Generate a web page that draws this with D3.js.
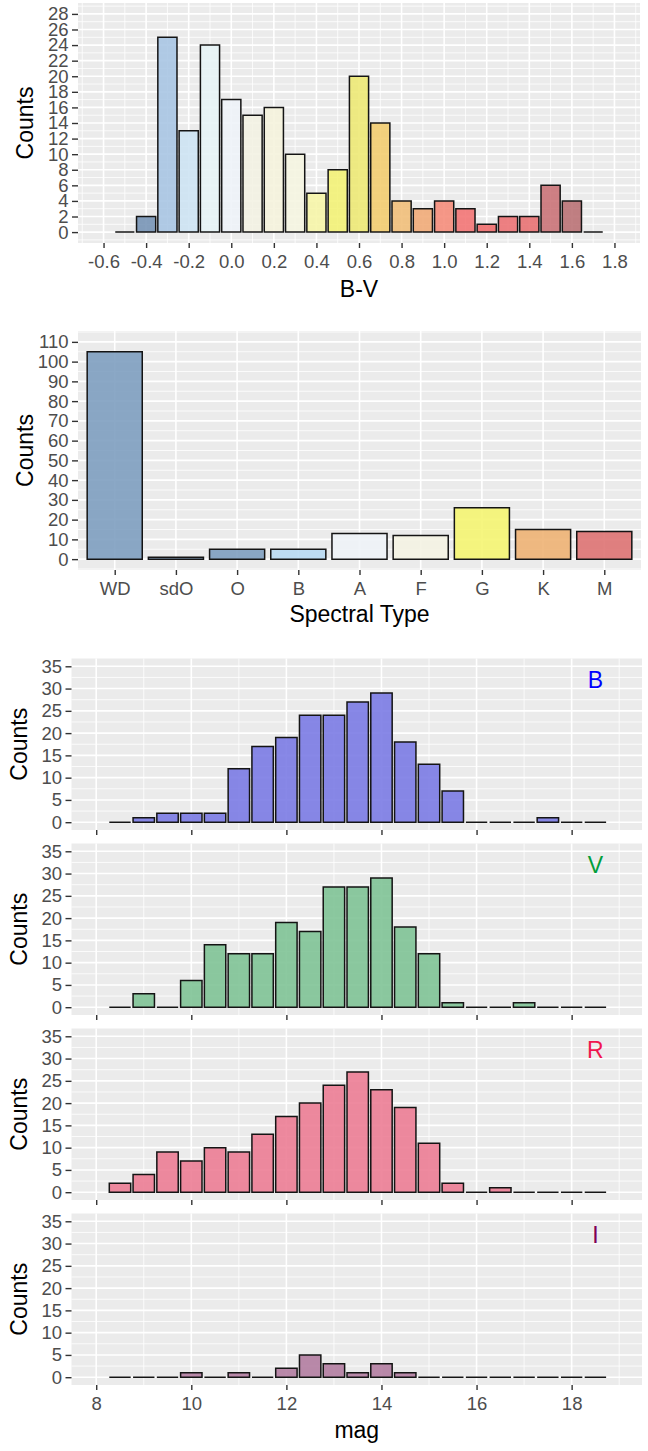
<!DOCTYPE html>
<html>
<head>
<meta charset="utf-8">
<script src="https://cdn.jsdelivr.net/npm/d3@7"></script>
<style>
  body { margin: 0; background: #fff; }
  text { font-family: "Liberation Sans", Arial, sans-serif; }
</style>
</head>
<body>
<div id="chart"></div>
<script>
/* * * * * * * * * * * * * *
 *   data  *
 * * * * * * * * * * * * * */

// B-V histogram (bin centres, counts, fill)
const bvCentres = [-0.5, -0.4, -0.3, -0.2, -0.1, 0.0, 0.1, 0.2, 0.3, 0.4, 0.5, 0.6,
  0.7, 0.8, 0.9, 1.0, 1.1, 1.2, 1.3, 1.4, 1.5, 1.6, 1.7];
const bvCounts = [0, 2, 25, 13, 24, 17, 15, 16, 10, 5, 8, 20,
  14, 4, 3, 4, 3, 1, 2, 2, 6, 4, 0];
const bvColors = ["#7492b4", "#7492b4", "#a6c4e2", "#cce3f3", "#e6f4f6", "#eef3f8", "#f2f1e2",
  "#f5f2dc", "#f5f5e0", "#f6f5a6", "#f3f173", "#ede872", "#f3cc6c", "#f0bd76", "#f0a874",
  "#f58a78", "#f27272", "#ef6a6a", "#ec6f72", "#e86e70", "#c87074", "#b86e72", "#b86e72"];
const bvTicks = [-0.6, -0.4, -0.2, 0.0, 0.2, 0.4, 0.6, 0.8, 1.0, 1.2, 1.4, 1.6, 1.8];
const bvYTicks = [0, 2, 4, 6, 8, 10, 12, 14, 16, 18, 20, 22, 24, 26, 28];

// spectral types
const specTypes = ["WD", "sdO", "O", "B", "A", "F", "G", "K", "M"];
const specCounts = [105, 1, 5, 5, 13, 12, 26, 15, 14];
const specColors = ["#7b9cbe", "#7b9cbe", "#7b9cbe", "#b7daf2", "#eef2f7", "#f4f3e2",
  "#f5f56e", "#eeb171", "#dd7070"];
const specYTicks = [0, 10, 20, 30, 40, 50, 60, 70, 80, 90, 100, 110];

// magnitude histograms
const magCentres = [8.5, 9.0, 9.5, 10.0, 10.5, 11.0, 11.5, 12.0, 12.5, 13.0, 13.5,
  14.0, 14.5, 15.0, 15.5, 16.0, 16.5, 17.0, 17.5, 18.0, 18.5];
const magB = [0, 1, 2, 2, 2, 12, 17, 19, 24, 24, 27, 29, 18, 13, 7, 0, 0, 0, 1, 0, 0];
const magV = [0, 3, 0, 6, 14, 12, 12, 19, 17, 27, 27, 29, 18, 12, 1, 0, 0, 1, 0, 0, 0];
const magR = [2, 4, 9, 7, 10, 9, 13, 17, 20, 24, 27, 23, 19, 11, 2, 0, 1, 0, 0, 0, 0];
const magI = [0, 0, 0, 1, 0, 1, 0, 2, 5, 3, 1, 3, 1, 0, 0, 0, 0, 0, 0, 0, 0];
const bandNames = ["B", "V", "R", "I"];
const bandFills = ["#7878e4", "#7cc293", "#ec7a92", "#b07a9e"];
const bandLabelColors = ["#0000ff", "#009e3a", "#f0164f", "#7f0055"];
const magTicks = [8, 10, 12, 14, 16, 18];
const magYTicks = [0, 5, 10, 15, 20, 25, 30, 35];

/* * * * * * * * * * * * * *
 *          drawing          *
 * * * * * * * * * * * * * */

const svg = d3.select("#chart").append("svg")
  .attr("width", 648)
  .attr("height", 1451);

const TICK_FONT = "18.5px";
const TITLE_FONT = "23px";

// grey panel + white grid lines
function drawPanel(g, x, y, box, grid) {
  g.append("rect")
    .attr("x", box.left).attr("y", box.top)
    .attr("width", box.right - box.left)
    .attr("height", box.bottom - box.top)
    .attr("fill", "#ebebeb");

  g.selectAll(".hmin").data(grid.yMinor).enter().append("line")
    .attr("x1", box.left).attr("x2", box.right)
    .attr("y1", d => y(d)).attr("y2", d => y(d))
    .attr("stroke", "#fff").attr("stroke-width", 0.8);
  g.selectAll(".vmin").data(grid.xMinor).enter().append("line")
    .attr("y1", box.top).attr("y2", box.bottom)
    .attr("x1", d => x(d)).attr("x2", d => x(d))
    .attr("stroke", "#fff").attr("stroke-width", 0.8);
  g.selectAll(".hmaj").data(grid.yMajor).enter().append("line")
    .attr("x1", box.left).attr("x2", box.right)
    .attr("y1", d => y(d)).attr("y2", d => y(d))
    .attr("stroke", "#fff").attr("stroke-width", 1.6);
  g.selectAll(".vmaj").data(grid.xMajor).enter().append("line")
    .attr("y1", box.top).attr("y2", box.bottom)
    .attr("x1", d => x(d)).attr("x2", d => x(d))
    .attr("stroke", "#fff").attr("stroke-width", 1.6);
}

// bars as paths so that zero counts still show as a flat stroke
function drawBars(g, data, x, y, halfWidth) {
  g.selectAll(".bar").data(data).enter().append("path")
    .attr("class", "bar")
    .attr("d", d => {
      let x0 = x(d.pos) - halfWidth, x1 = x(d.pos) + halfWidth;
      let y0 = y(0), y1 = y(d.count);
      return `M${x0},${y0}H${x1}V${y1}H${x0}Z`;
    })
    .attr("fill", d => d.color)
    .attr("fill-opacity", 0.88)
    .attr("stroke", "#141414")
    .attr("stroke-width", 1.5);
}

function styleAxis(a, showText) {
  a.select(".domain").remove();
  a.selectAll(".tick line").attr("stroke", "#333").attr("stroke-width", 1.4);
  a.selectAll(".tick text")
    .attr("fill", "#4d4d4d")
    .style("font-size", TICK_FONT)
    .style("font-family", "'Liberation Sans', Arial, sans-serif");
  if (!showText) a.selectAll(".tick text").remove();
}

function yTitle(xc, box) {
  svg.append("text")
    .attr("transform", `translate(${xc},${(box.top + box.bottom) / 2}) rotate(-90)`)
    .attr("text-anchor", "middle")
    .attr("dominant-baseline", "central")
    .style("font-size", TITLE_FONT)
    .attr("fill", "#000")
    .text("Counts");
}

function xTitle(txt, baseline, box) {
  svg.append("text")
    .attr("x", (box.left + box.right) / 2)
    .attr("y", baseline)
    .attr("text-anchor", "middle")
    .style("font-size", TITLE_FONT)
    .attr("fill", "#000")
    .text(txt);
}

/* ---- 1. B-V histogram ---- */
{
  let box = { left: 78, right: 640, top: 3, bottom: 243 };
  let x = d3.scaleLinear().domain([-0.72, 1.92]).range([box.left, box.right]);
  let y = d3.scaleLinear().domain([-1.4, 29.4]).range([box.bottom, box.top]);
  let g = svg.append("g");

  drawPanel(g, x, y, box, {
    xMajor: bvTicks,
    xMinor: [-0.7].concat(bvTicks.map(t => t + 0.1)),
    yMajor: bvYTicks,
    yMinor: [-1].concat(bvYTicks.map(t => t + 1))
  });

  let data = bvCentres.map((c, i) => ({ pos: c, count: bvCounts[i], color: bvColors[i] }));
  drawBars(g, data, x, y, (x(0.045) - x(0)));

  // plain hyphen for the minus sign, as in the original
  let ax = svg.append("g").attr("transform", `translate(0,${box.bottom})`)
    .call(d3.axisBottom(x).tickValues(bvTicks).tickFormat(d => d.toFixed(1)).tickSize(5).tickPadding(7));
  styleAxis(ax, true);
  let ay = svg.append("g").attr("transform", `translate(${box.left},0)`)
    .call(d3.axisLeft(y).tickValues(bvYTicks).tickSize(6).tickPadding(3.5));
  styleAxis(ay, true);

  yTitle(25, box);
  xTitle("B-V", 297, box);
}

/* ---- 2. spectral type bar chart ---- */
{
  let box = { left: 78, right: 641, top: 331, bottom: 570 };
  let x = d3.scalePoint().domain(specTypes).range([box.left, box.right]).padding(0.6);
  let y = d3.scaleLinear().domain([-5.5, 115.5]).range([box.bottom, box.top]);
  let g = svg.append("g");

  drawPanel(g, x, y, box, {
    xMajor: specTypes,
    xMinor: [],
    yMajor: specYTicks,
    yMinor: [-5].concat(specYTicks.map(t => t + 5))
  });

  let data = specTypes.map((t, i) => ({ pos: t, count: specCounts[i], color: specColors[i] }));
  drawBars(g, data, x, y, x.step() * 0.45);

  let ax = svg.append("g").attr("transform", `translate(0,${box.bottom})`)
    .call(d3.axisBottom(x).tickSize(5).tickPadding(7));
  styleAxis(ax, true);
  let ay = svg.append("g").attr("transform", `translate(${box.left},0)`)
    .call(d3.axisLeft(y).tickValues(specYTicks).tickSize(6).tickPadding(3.5));
  styleAxis(ay, true);

  yTitle(25, box);
  xTitle("Spectral Type", 622, box);
}

/* ---- 3. magnitude histograms, one panel per band ---- */
const magSeries = [magB, magV, magR, magI];
magSeries.forEach((counts, k) => {
  let top = 658.5 + k * 185;
  let box = { left: 71.5, right: 642, top: top, bottom: top + 171.5 };
  let x = d3.scaleLinear().domain([7.48, 19.48]).range([box.left, box.right]);
  let y = d3.scaleLinear().domain([-1.75, 36.75]).range([box.bottom, box.top]);
  let g = svg.append("g");

  drawPanel(g, x, y, box, {
    xMajor: magTicks,
    xMinor: magTicks.map(t => t + 1),
    yMajor: magYTicks,
    yMinor: magYTicks.map(t => t + 2.5)
  });

  let data = magCentres.map((c, i) => ({ pos: c, count: counts[i], color: bandFills[k] }));
  drawBars(g, data, x, y, x(0.225) - x(0));

  g.append("text")
    .attr("x", x(18.5)).attr("y", y(32))
    .attr("text-anchor", "middle")
    .attr("dominant-baseline", "central")
    .style("font-size", TITLE_FONT)
    .attr("fill", bandLabelColors[k])
    .text(bandNames[k]);

  let last = k === magSeries.length - 1;
  let ax = svg.append("g").attr("transform", `translate(0,${box.bottom})`)
    .call(d3.axisBottom(x).tickValues(magTicks).tickSize(5).tickPadding(7));
  styleAxis(ax, last);
  let ay = svg.append("g").attr("transform", `translate(${box.left},0)`)
    .call(d3.axisLeft(y).tickValues(magYTicks).tickSize(6).tickPadding(3.5));
  styleAxis(ay, true);

  yTitle(18.7, box);
  if (last) xTitle("mag", 1438, box);
});
</script>
</body>
</html>
